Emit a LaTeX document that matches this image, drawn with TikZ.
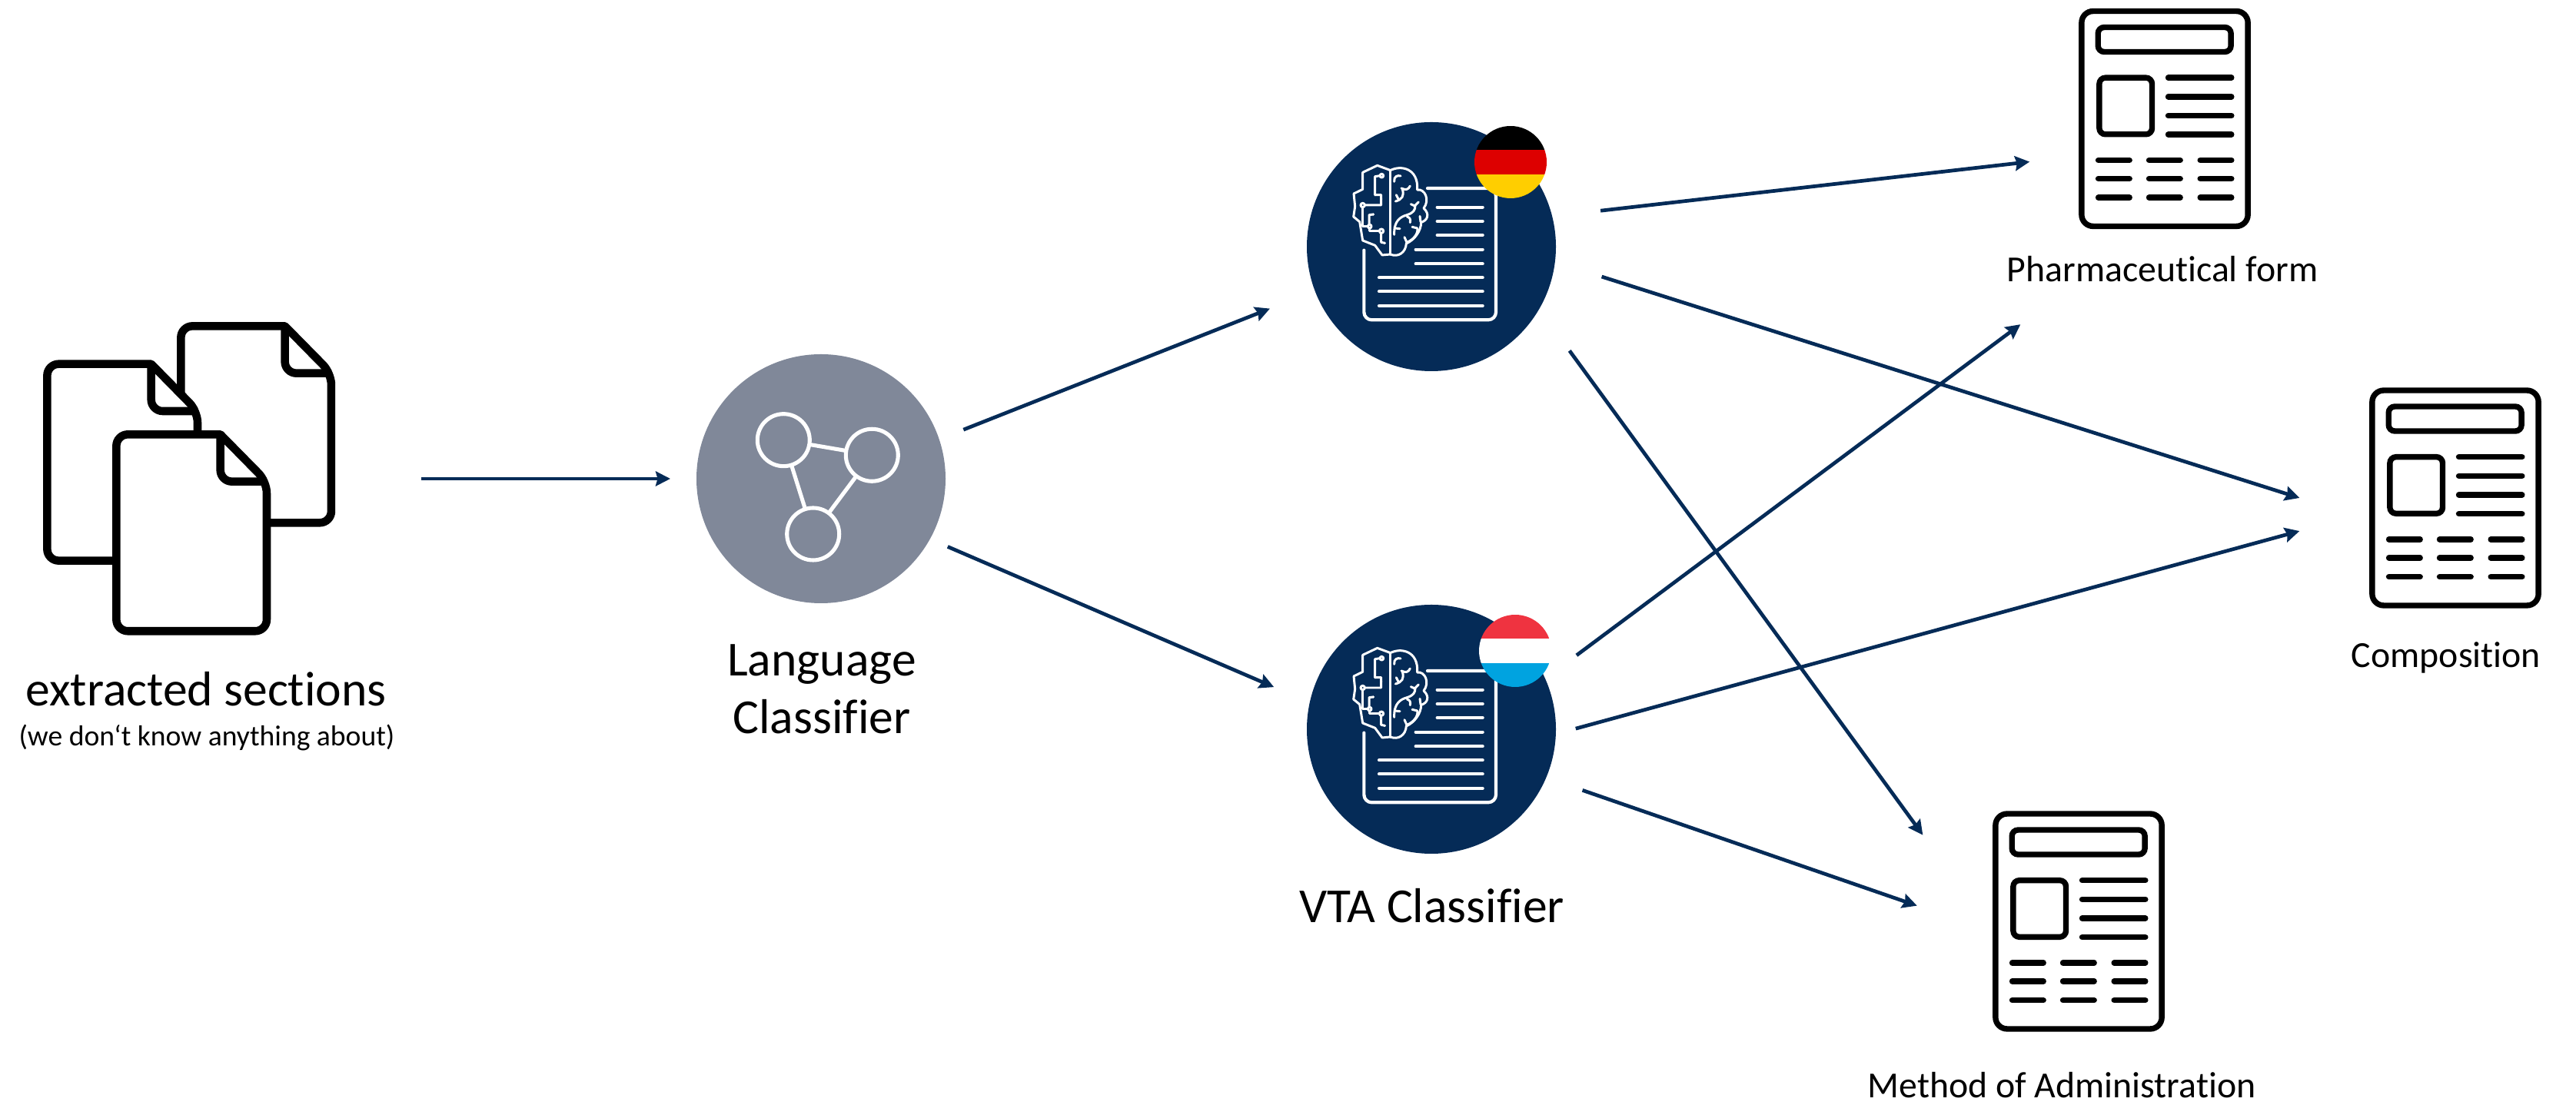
\documentclass[tikz,border=0pt]{standalone}
\usepackage{fontspec}
\setmainfont{Carlito}[Ligatures=NoCommon]
\usetikzlibrary{arrows.meta}
\definecolor{navy}{HTML}{052B57}
\definecolor{slate}{HTML}{808899}
\definecolor{dered}{HTML}{DD0000}
\definecolor{degold}{HTML}{FFCE00}
\definecolor{luxred}{HTML}{EF3340}
\definecolor{luxblue}{HTML}{00A3E0}
\tikzset{
	zoomed/.style={x=.03333mm,y=-.03333mm},
	flow/.style={navy,line width=1.35pt,-{Stealth[length=.19cm,width=.19cm,inset=.025cm]}},
	clf/.style={circle,fill=navy,inner sep=0,outer sep=#1,minimum size=3.24cm},
	stacknode/.style={minimum width=6.02cm,minimum height=4.2cm,inner sep=0},
	docnode/.style n args={2}{minimum width=#1,minimum height=#2,inner sep=0},
	flagdisc/.style n args={3}{circle,minimum size=.94cm,inner sep=0,path picture={
			\fill[#1] (path picture bounding box.north west) rectangle ([yshift=-.313cm]path picture bounding box.north east);
			\fill[#2] ([yshift=-.313cm]path picture bounding box.north west) rectangle ([yshift=.313cm]path picture bounding box.south east);
			\fill[#3] ([yshift=.313cm]path picture bounding box.south west) rectangle (path picture bounding box.south east);
	}},
	bigtext/.style={font=\fontsize{18.1}{21.4}\selectfont,align=center,anchor=base,inner sep=0},
	smalltext/.style={font=\fontsize{10.7}{12}\selectfont,anchor=base,inner sep=0},
	doctext/.style={font=\fontsize{13.6}{15}\selectfont,anchor=base,inner sep=0},
	stack/.pic={
		\begin{scope}[zoomed,shift={(-648,-669)},line width=3pt,line join=round]
			\foreach \dx/\dy in {616/73,94/221,364/496} {
				\begin{scope}[shift={(\dx,\dy)}]
					\draw[fill=white,rounded corners=.15cm] (406,0) -- (0,0) -- (0,768) -- (587,768) -- (587,184) [sharp corners] -- cycle;
					\draw[rounded corners=.15cm] (406,0) -- (406,184) -- (587,184);
				\end{scope}
			}
		\end{scope}
	},
	article/.pic={
		\begin{scope}[zoomed,shift={(-407.5,-464)},line width=2.1pt,line cap=round]
			\draw[rounded corners=.15cm] (83,44) rectangle (732,884);
			\draw[rounded corners=.08cm] (147,107) rectangle (666,203);
			\draw[rounded corners=.08cm] (152,304) rectangle (358,525);
			\foreach \y in {304,378,452,526}
				\draw (421,\y) -- (668,\y);
			\foreach \y in {626,698,772} {
				\draw (148,\y) -- (270,\y);
				\draw (346,\y) -- (468,\y);
				\draw (546,\y) -- (668,\y);
			}
		\end{scope}
	},
	network/.pic={
		\begin{scope}[white,line width=1.45pt]
			\node[circle,draw=white,minimum size=.68cm,inner sep=0,outer sep=0] (n1) at (-.487,.503) {};
			\node[circle,draw=white,minimum size=.68cm,inner sep=0,outer sep=0] (n2) at (.663,.307) {};
			\node[circle,draw=white,minimum size=.68cm,inner sep=0,outer sep=0] (n3) at (-.103,-.72) {};
			\draw (n1) -- (n2);
			\draw (n2) -- (n3);
			\draw (n3) -- (n1);
		\end{scope}
	},
	brainpage/.pic={
		\begin{scope}[zoomed,shift={(-545,-542)},white,line cap=round,line join=round]
			\draw[line width=1.2pt,rounded corners=.1cm] (530,314) -- (797,314) -- (797,828) -- (282,828) -- (282,556);
			\foreach \y in {388,443,497}
				\draw[line width=1.2pt] (568,\y) -- (745,\y);
			\foreach \y in {553,609}
				\draw[line width=1.2pt] (484,\y) -- (745,\y);
			\foreach \y in {663,717,773}
				\draw[line width=1.2pt] (341,\y) -- (745,\y);
			\begin{scope}[line width=.85pt]
				\draw (383,243) -- (334,225) -- (277,252) -- (277,318) -- (242,335) -- (247,385) -- (241,425) -- (265,445) -- (277,518) -- (325,537) -- (353,575) -- (385,572);
				\draw (383,243) -- (383,572);
				\draw (383,245) .. controls (425,222) and (495,235) .. (490,320) .. controls (520,315) and (540,360) .. (515,392) .. controls (540,415) and (530,440) .. (505,447) .. controls (505,480) and (480,515) .. (447,530) .. controls (445,565) and (415,585) .. (385,572);
				\draw (344,265) -- (325,268) -- (325,340) -- (349,340) -- (349,380) -- (285,380);
				\draw (277,388) -- (277,462) -- (297,462);
				\draw (318,416) -- (302,418) -- (302,455);
				\draw (304,471) -- (304,481) -- (342,481);
				\draw (349,489) -- (349,525) -- (363,528);
				\foreach \cx/\cy/\cr in {351/265/7,277/380/8,304/463/7,350/481/8}
					\draw (\cx,\cy) circle (\cr);
				\foreach \cx/\cy in {325/340,349/356,318/416,363/528}
					\fill (\cx,\cy) circle (5);
				\draw (400,288) .. controls (398,268) and (412,262) .. (425,266);
				\draw (405,365) .. controls (430,358) and (440,345) .. (432,318);
				\draw (462,305) .. controls (455,320) and (445,322) .. (428,314);
				\draw (408,340) -- (416,356);
				\draw (400,495) .. controls (398,440) and (425,425) .. (450,418) .. controls (475,410) and (482,400) .. (482,380);
				\draw (465,376) -- (480,383) -- (495,368);
				\draw (450,425) .. controls (462,428) and (464,436) .. (462,448);
				\draw (402,470) -- (422,472);
				\draw (500,423) -- (503,445);
				\draw (470,465) -- (490,470) .. controls (495,490) and (475,515) .. (450,525);
				\draw (440,505) -- (450,528);
			\end{scope}
		\end{scope}
	}
}
\begin{document}
\begin{tikzpicture}
	\useasboundingbox (0,0) rectangle (33.51,14.38);

	\node[stacknode] (docs) at (2.46,8.15) {};
	\pic at (docs) {stack};
	\node[bigtext] (docstext) at (2.68,5.19) {extracted sections};
	\node[smalltext] (docsnote) at (2.69,4.67) {(we don‘t know anything about)};

	\node[clf=.34cm,fill=slate] (lang) at (10.68,8.15) {};
	\pic at (lang) {network};
	\node[bigtext] (langtext) at (10.69,4.83) {Language\\Classifier};

	\node[clf=.63cm] (de) at (18.62,11.17) {};
	\pic at (de) {brainpage};
	\node[flagdisc={black}{dered}{degold}] (deflag) at (19.65,12.27) {};

	\node[clf=.50cm] (lux) at (18.62,4.89) {};
	\pic at (lux) {brainpage};
	\node[flagdisc={luxred}{white}{luxblue}] (luxflag) at (19.71,5.91) {};
	\node[bigtext] (luxtext) at (18.63,2.37) {VTA Classifier};

	\node[docnode={3.74cm}{5.34cm}] (formdoc) at (28.16,12.835) {};
	\pic at (formdoc) {article};
	\node[doctext] (formtext) at (28.13,10.71) {Pharmaceutical form};

	\node[docnode={4.04cm}{2.9cm}] (compdoc) at (31.94,7.90) {};
	\pic at (compdoc) {article};
	\node[doctext] (comptext) at (31.82,5.69) {Composition};

	\node[docnode={4.04cm}{2.9cm}] (admindoc) at (27.04,2.39) {};
	\pic at (admindoc) {article};
	\node[doctext] (admintext) at (26.82,.09) {Method of Administration};

	\draw[flow] (docs.east) -- (lang.west);
	\draw[flow] (lang.19.5) -- (de.201);
	\draw[flow,shorten <=-.09cm] (lang.-28) -- (lux.165);
	\draw[flow,shorten >=-.12cm] (de.12) -- (formdoc.197);
	\draw[flow] (de.-10.7) -- (compdoc.west);
	\draw[flow] (de.-37.9) -- (admindoc.151.9);
	\draw[flow] (lux.27.2) -- (formdoc.south west);
	\draw[flow,shorten <=-.25cm] (lux.2.1) -- (compdoc.192.3);
	\draw[flow,shorten >=.08cm] (lux.-22.2) -- (admindoc.175.4);
\end{tikzpicture}
\end{document}
